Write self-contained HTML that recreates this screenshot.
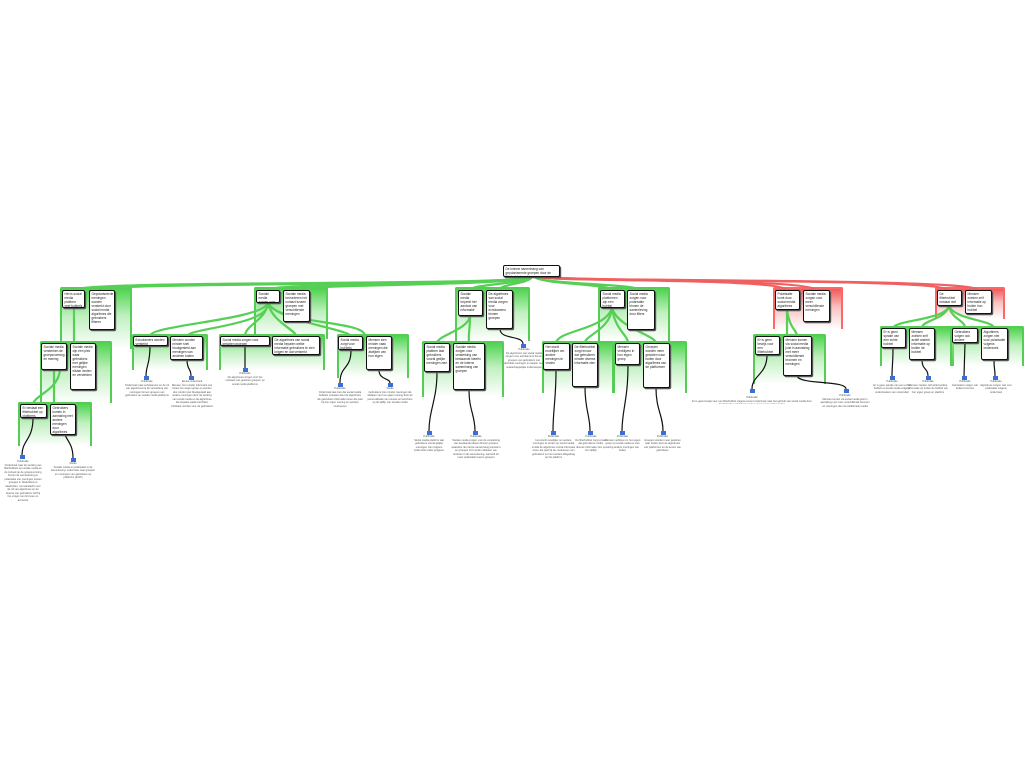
<!DOCTYPE html>
<html><head><meta charset="utf-8"><style>
html,body{margin:0;padding:0;background:#fff;width:1024px;height:768px;overflow:hidden;position:relative}
.b{position:absolute;background:#fff;border:1.6px solid #111;border-radius:2px;box-shadow:1.2px 1.2px 0 #555;font:3.2px/1.25 "Liberation Sans",sans-serif;color:#222;padding:1px 1.5px;box-sizing:border-box;overflow:hidden;z-index:3}
.g{position:absolute;background:linear-gradient(rgba(70,210,70,.95),rgba(150,230,150,.6) 45%,rgba(255,255,255,0));border-left:2px solid #5c5;border-right:2px solid #5c5;border-top:2px solid #5c5;border-radius:2px 2px 0 0;z-index:1}
.r{position:absolute;background:linear-gradient(rgba(240,80,80,.95),rgba(245,150,150,.6) 45%,rgba(255,255,255,0));border-left:2px solid #f66;border-right:2px solid #f66;border-top:2px solid #f66;border-radius:2px 2px 0 0;z-index:1}
.i{position:absolute;width:5px;height:4px;background:#3a6fd8;z-index:3}
.c{position:absolute;font:2.6px/1.35 "Liberation Sans",sans-serif;color:#555;text-align:center;z-index:3;overflow:hidden}
svg{position:absolute;left:0;top:0;z-index:2}
</style></head><body>
<div class="g" style="left:60px;top:287px;width:68px;height:60px"></div>
<div class="g" style="left:254px;top:287px;width:70px;height:50px"></div>
<div class="g" style="left:455px;top:287px;width:71px;height:52px"></div>
<div class="g" style="left:598px;top:287px;width:68px;height:52px"></div>
<div class="r" style="left:773px;top:287px;width:66px;height:40px"></div>
<div class="r" style="left:935px;top:287px;width:66px;height:30px"></div>
<div class="g" style="left:40px;top:341px;width:68px;height:60px"></div>
<div class="g" style="left:18px;top:402px;width:70px;height:42px"></div>
<div class="g" style="left:132px;top:334px;width:72px;height:34px"></div>
<div class="g" style="left:219px;top:334px;width:102px;height:34px"></div>
<div class="g" style="left:337px;top:334px;width:68px;height:42px"></div>
<div class="g" style="left:422px;top:341px;width:78px;height:54px"></div>
<div class="g" style="left:542px;top:341px;width:68px;height:50px"></div>
<div class="g" style="left:613px;top:341px;width:70px;height:50px"></div>
<div class="g" style="left:753px;top:334px;width:69px;height:48px"></div>
<div class="g" style="left:880px;top:326px;width:70px;height:38px"></div>
<div class="g" style="left:950px;top:326px;width:70px;height:38px"></div>

<svg width="1024" height="768" fill="none" stroke-linecap="round">
<g stroke="#55d055" stroke-width="2.2">
<path d="M525 277 C520 286 80 280 74 290"/><path d="M525 277 C520 286 105 282 100 290"/>
<path d="M528 277 C520 286 270 282 268 290"/><path d="M528 277 C520 286 300 284 296 290"/>
<path d="M530 277 C525 284 472 284 470 290"/><path d="M532 277 C528 284 500 284 499 290"/>
<path d="M535 277 C540 284 610 284 612 290"/><path d="M535 277 C540 284 638 284 640 290"/>
<path d="M74 308 L74 343 M54 370 L54 404 M60 370 C58 390 35 395 33 404"/>
<path d="M268 303 C262 320 150 325 150 336 M268 303 C266 320 245 325 245 336 M268 303 C280 325 365 320 365 336 M268 303 C270 325 190 328 187 336 M268 303 C272 322 296 330 296 336 M268 303 C275 320 350 330 351 336"/>
<path d="M470 316 C468 330 438 335 437 343 M470 316 C470 330 468 335 469 343"/>
<path d="M612 308 C605 330 558 330 556 343 M612 308 C610 330 585 335 585 343 M612 308 C615 330 628 335 628 343 M612 308 C618 328 655 335 656 343"/>
<path d="M787 310 L787 336 M787 310 C790 330 797 330 797 336"/>
<path d="M949 306 C945 320 895 320 893 328 M949 306 C945 320 922 320 922 328 M949 306 C952 320 965 320 965 328 M949 306 C955 320 993 320 994 328"/>
</g>
<g stroke="#f06060" stroke-width="2.2">
<path d="M540 277 C560 282 780 278 787 290"/><path d="M540 277 C560 282 810 278 816 290"/>
<path d="M545 277 C580 282 940 278 949 290"/><path d="M545 277 C580 282 975 278 978 290"/>
</g>
<g stroke="#111" stroke-width="1.2">
<path d="M33 418 C33 440 22 440 22 455 M63 425 C63 440 73 440 73 458"/>
<path d="M150 346 C150 365 146 365 146 376 M187 360 C187 370 191 368 191 376 M245 346 L245 368"/>
<path d="M351 350 C351 370 340 365 340 383 M379 370 C379 380 390 378 390 383"/>
<path d="M437 372 C437 400 429 410 429 431 M469 390 C469 410 475 415 475 431 M500 329 C500 340 523 335 523 344"/>
<path d="M556 370 C556 400 553 410 553 431 M585 387 C585 410 590 415 590 431 M628 365 C628 400 622 410 622 431 M656 388 C656 410 663 415 663 431"/>
<path d="M767 355 C767 375 752 375 752 389 M797 376 C800 385 846 380 846 389"/>
<path d="M893 348 C893 365 892 365 892 376 M922 360 C922 370 928 368 928 376 M965 343 L964 376 M994 360 C994 370 995 368 995 376"/>
</g>
</svg>

<div class="b" style="left:503px;top:265px;width:57px;height:12px">De interne samenhang van gepolariseerde groepen door de filterbubbel-werking</div>
<div class="b" style="left:62px;top:290px;width:23px;height:18px">Het is social media platform veel bubbels</div>
<div class="b" style="left:89px;top:290px;width:26px;height:40px">Gepolariseerde meningen worden versterkt door social media algoritmes die gebruikers filteren</div>
<div class="b" style="left:256px;top:290px;width:24px;height:13px">Sociale media zorgen voor polarisatie</div>
<div class="b" style="left:283px;top:290px;width:27px;height:32px">Sociale media bevorderen het contact tussen groepen met verschillende meningen</div>
<div class="b" style="left:458px;top:290px;width:25px;height:26px">Sociale media beperkt het aanbod van informatie</div>
<div class="b" style="left:486px;top:290px;width:27px;height:39px">De algoritmes van social media zorgen voor echokamers binnen groepen</div>
<div class="b" style="left:600px;top:290px;width:25px;height:18px">Social media platformen zijn een bubbel</div>
<div class="b" style="left:627px;top:290px;width:28px;height:40px">Social media zorgen voor polarisatie binnen de samenleving door filters</div>
<div class="b" style="left:775px;top:290px;width:25px;height:20px">Polarisatie komt door social media algoritmes</div>
<div class="b" style="left:803px;top:290px;width:27px;height:32px">Sociale media zorgen voor meer verschillende meningen</div>
<div class="b" style="left:937px;top:290px;width:25px;height:16px">De filterbubbel bestaat niet</div>
<div class="b" style="left:965px;top:290px;width:27px;height:24px">Mensen zoeken zelf informatie op buiten hun bubbel</div>

<div class="b" style="left:41px;top:343px;width:26px;height:27px">Sociale media versterken de groepsvorming en mening</div>
<div class="b" style="left:70px;top:343px;width:26px;height:47px">Sociale media zijn een plek waar gebruikers met gelijke meningen elkaar vinden en versterken</div>
<div class="b" style="left:20px;top:404px;width:27px;height:14px">Er bestaat een filterbubbel op platforms</div>
<div class="b" style="left:50px;top:404px;width:26px;height:31px">Gebruikers komen in aanraking met andere meningen door algoritmes</div>
<div class="b" style="left:133px;top:336px;width:35px;height:10px">Echokamers worden versterkt</div>
<div class="b" style="left:170px;top:336px;width:33px;height:24px">Mensen worden minder snel blootgesteld aan meningen van anderen buiten groep</div>
<div class="b" style="left:220px;top:336px;width:50px;height:10px">Social media zorgen voor gesloten groepen</div>
<div class="b" style="left:272px;top:336px;width:48px;height:19px">De algoritmes van social media bepalen welke informatie gebruikers te zien krijgen en dat versterkt</div>
<div class="b" style="left:338px;top:336px;width:25px;height:14px">Social media zorgt voor bubbels</div>
<div class="b" style="left:366px;top:336px;width:26px;height:34px">Mensen zien minder vaak meningen die afwijken van hun eigen</div>
<div class="b" style="left:424px;top:343px;width:26px;height:29px">Social media platform laat gebruikers vooral gelijke meningen zien</div>
<div class="b" style="left:453px;top:343px;width:32px;height:47px">Sociale media zorgen voor versterking van bestaande ideeën en de interne samenhang van groepen</div>
<div class="b" style="left:543px;top:343px;width:27px;height:27px">Het wordt moeilijker om andere meningen te vinden</div>
<div class="b" style="left:572px;top:343px;width:26px;height:44px">De filterbubbel zorgt ervoor dat gebruikers minder diverse informatie zien</div>
<div class="b" style="left:615px;top:343px;width:25px;height:22px">Mensen verblijven in hun eigen groep</div>
<div class="b" style="left:643px;top:343px;width:27px;height:45px">Groepen worden meer gesloten naar buiten door algoritmes van de platformen</div>
<div class="b" style="left:755px;top:336px;width:25px;height:19px">Er is geen bewijs voor een filterbubbel</div>
<div class="b" style="left:783px;top:336px;width:29px;height:40px">Mensen komen via social media juist in aanraking met meer verschillende bronnen en meningen</div>
<div class="b" style="left:881px;top:328px;width:25px;height:20px">Er is geen sprake van een echte bubbel</div>
<div class="b" style="left:909px;top:328px;width:26px;height:32px">Mensen zoeken zelf actief andere informatie op buiten de bubbel</div>
<div class="b" style="left:952px;top:328px;width:26px;height:15px">Gebruikers volgen ook andere bronnen</div>
<div class="b" style="left:981px;top:328px;width:27px;height:32px">Algoritmes zorgen niet voor polarisatie volgens onderzoek</div>

<div class="i" style="left:20px;top:455px"></div><div class="c" style="left:4px;top:460px;width:38px;height:46px">Publicatie<br>Onderzoek naar de werking van filterbubbels op sociale media en de invloed op de groepsvorming binnen de samenleving en polarisatie van meningen tussen groepen in Nederland en daarbuiten, met aandacht voor de rol van algoritmes en de keuzes van gebruikers zelf bij het volgen van bronnen en accounts</div>
<div class="i" style="left:71px;top:458px"></div><div class="c" style="left:50px;top:462px;width:46px;height:20px">Studie<br>Sociale media en polarisatie in de samenleving: onderzoek naar groepen en meningen van gebruikers op platforms (2016)</div>
<div class="i" style="left:144px;top:376px"></div><div class="c" style="left:124px;top:380px;width:46px;height:28px">Publicatie<br>Onderzoek naar echokamers en de rol van algoritmes bij de versterking van meningen binnen groepen van gebruikers op sociale media platforms</div>
<div class="i" style="left:189px;top:376px"></div><div class="c" style="left:171px;top:380px;width:42px;height:46px">Eerste onderzoek<br>Mensen zien minder informatie van buiten hun eigen groep en worden dus minder snel blootgesteld aan andere meningen door de werking van social media en de algoritmes die bepalen welke berichten zichtbaar worden voor de gebruikers</div>
<div class="i" style="left:243px;top:368px"></div><div class="c" style="left:224px;top:372px;width:42px;height:20px">Publicatie<br>De algoritmes zorgen voor het ontstaan van gesloten groepen op social media platforms</div>
<div class="i" style="left:338px;top:383px"></div><div class="c" style="left:317px;top:387px;width:46px;height:34px">Publicatie<br>Onderzoek laat zien dat social media bubbels ontstaan door de algoritmes die gebruikers informatie tonen die past bij hun eigen mening en eerdere voorkeuren</div>
<div class="i" style="left:388px;top:383px"></div><div class="c" style="left:367px;top:387px;width:46px;height:34px">Studie<br>Gebruikers zien minder meningen die afwijken van hun eigen mening door de personalisatie van nieuws en berichten op de tijdlijn van sociale media</div>
<div class="i" style="left:427px;top:431px"></div><div class="c" style="left:411px;top:435px;width:36px;height:30px">Publicatie<br>Social media platform laat gebruikers vooral gelijke meningen zien volgens onderzoek onder jongeren</div>
<div class="i" style="left:473px;top:431px"></div><div class="c" style="left:451px;top:435px;width:50px;height:46px">Publicatie<br>Sociale media zorgen voor de versterking van bestaande ideeën binnen groepen waardoor de interne samenhang toeneemt en groepen zich verder afsluiten van anderen in de samenleving, wat leidt tot meer polarisatie tussen groepen</div>
<div class="i" style="left:521px;top:344px"></div><div class="c" style="left:504px;top:348px;width:40px;height:38px">Publicatie<br>De algoritmes van social media zorgen voor echokamers binnen groepen van gebruikers met dezelfde meningen en ideeën over maatschappelijke onderwerpen</div>
<div class="i" style="left:551px;top:431px"></div><div class="c" style="left:531px;top:435px;width:45px;height:46px">Publicatie<br>Het wordt moeilijker om andere meningen te vinden op social media omdat de algoritmes vooral informatie tonen die past bij de voorkeuren van gebruikers en hun eerdere klikgedrag op het platform</div>
<div class="i" style="left:588px;top:431px"></div><div class="c" style="left:574px;top:435px;width:34px;height:32px">Publicatie<br>De filterbubbel zorgt ervoor dat gebruikers minder diverse informatie zien op hun tijdlijn</div>
<div class="i" style="left:620px;top:431px"></div><div class="c" style="left:604px;top:435px;width:37px;height:36px">Publicatie<br>Mensen verblijven in hun eigen groep op social media en zien weinig andere meningen van buiten</div>
<div class="i" style="left:661px;top:431px"></div><div class="c" style="left:644px;top:435px;width:37px;height:40px">Publicatie<br>Groepen worden meer gesloten naar buiten door de algoritmes van platformen en de keuze van gebruikers</div>
<div class="i" style="left:750px;top:389px"></div><div class="c" style="left:688px;top:396px;width:128px;height:8px">Publicatie<br>Er is geen bewijs voor een filterbubbel volgens recent onderzoek naar het gebruik van social media door Nederlandse gebruikers en hun nieuwsconsumptie online</div>
<div class="i" style="left:844px;top:389px"></div><div class="c" style="left:819px;top:394px;width:52px;height:16px">Publicatie<br>Mensen komen via social media juist in aanraking met meer verschillende bronnen en meningen dan via traditionele media</div>
<div class="i" style="left:890px;top:376px"></div><div class="c" style="left:871px;top:380px;width:42px;height:24px">Publicatie<br>Er is geen sprake van een echte bubbel op social media volgens onderzoekers van universiteit</div>
<div class="i" style="left:926px;top:376px"></div><div class="c" style="left:907px;top:380px;width:42px;height:30px">Publicatie<br>Mensen zoeken zelf actief andere informatie op buiten de bubbel van hun eigen groep en platform</div>
<div class="i" style="left:962px;top:376px"></div><div class="c" style="left:949px;top:380px;width:32px;height:16px">Publicatie<br>Gebruikers volgen ook andere bronnen</div>
<div class="i" style="left:993px;top:376px"></div><div class="c" style="left:979px;top:380px;width:34px;height:24px">Publicatie<br>Algoritmes zorgen niet voor polarisatie volgens onderzoek</div>
</body></html>
